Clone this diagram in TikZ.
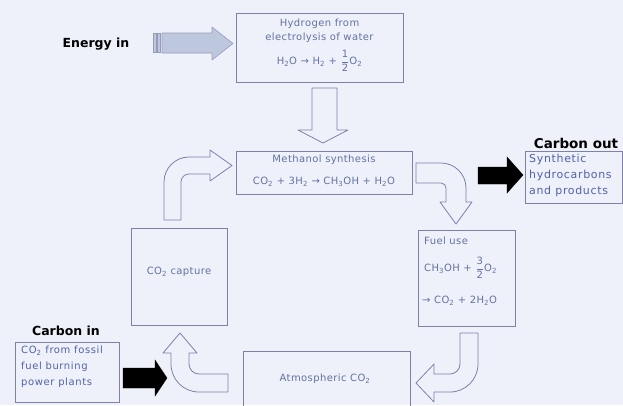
\documentclass[tikz,border=0pt]{standalone}
\usepackage{fontspec}
\setmainfont{DejaVu Sans}
\newfontfamily\spaced[LetterSpace=4]{DejaVu Sans}
\newfontfamily\spacedb[LetterSpace=6]{DejaVu Sans}
\definecolor{bg}{HTML}{EEF1F9}
\definecolor{edge}{HTML}{7C82AA}
\definecolor{txt}{HTML}{6372A2}
\definecolor{bluetxt}{HTML}{5262AC}
\definecolor{energyfill}{HTML}{BDC7DD}
\newcommand{\myfr}[2]{$\displaystyle\frac{\mbox{\spaced\fontsize{10}{10}\selectfont #1}}{\mbox{\spaced\fontsize{10}{10}\selectfont #2}}$}
\tikzset{
  box/.style={draw=edge, line width=0.8pt, inner sep=0pt},
  boxtext/.style={text=txt, font=\spaced\fontsize{10}{12}\selectfont, inner sep=0pt},
  sidetext/.style={text=bluetxt, font=\spacedb\fontsize{11}{16}\selectfont, inner sep=0pt, align=left},
  label/.style={text=black, font=\bfseries\fontsize{12.5}{14}\selectfont, inner sep=0pt},
  hollow/.style={draw=edge, line width=0.8pt, fill=bg, line join=round},
  solid/.style={fill=black, draw=black}
}
\begin{document}
\begin{tikzpicture}[x=1pt,y=-1pt]
\fill[bg] (0,0) rectangle (623,405);
\useasboundingbox (0,0) rectangle (623,405);
\clip (0,0) rectangle (623,405);

% boxes
\node[box, minimum width=167pt, minimum height=69pt] (hyd) at (319.5,47.5) {};
\node[box, minimum width=176pt, minimum height=43pt] (meth) at (324,172.5) {};
\node[box, minimum width=97pt, minimum height=52pt] (out) at (573.5,177) {};
\node[box, minimum width=97pt, minimum height=96pt] (fuel) at (466.5,278) {};
\node[box, minimum width=167pt, minimum height=62pt] (atm) at (326.5,382) {};
\node[box, minimum width=96pt, minimum height=97pt] (cap) at (179,276.5) {};
\node[box, minimum width=104pt, minimum height=60pt] (cin) at (67,372) {};

% texts in hydrogen box
\node[boxtext] (h1) at (319.5,24) {Hydrogen from};
\node[boxtext] (h2) at (319.5,38) {electrolysis of water};
\node[boxtext] (h3) at (319.5,61) {H\textsubscript{2}O → H\textsubscript{2} + \myfr{1}{2}O\textsubscript{2}};

% methanol
\node[boxtext] (m1) at (324,160) {Methanol synthesis};
\node[boxtext] (m2) at (324,182) {CO\textsubscript{2} + 3H\textsubscript{2} → CH\textsubscript{3}OH + H\textsubscript{2}O};

% fuel use
\node[boxtext, anchor=west] (f1) at (424,241) {Fuel use};
\node[boxtext, anchor=west] (f2) at (424,268) {CH\textsubscript{3}OH + \myfr{3}{2}O\textsubscript{2}};
\node[boxtext, anchor=west] (f3) at (422,301) {→ CO\textsubscript{2} + 2H\textsubscript{2}O};

% capture, atmospheric
\node[boxtext] (c1) at (179,272) {CO\textsubscript{2} capture};
\node[boxtext] (a1) at (325,379) {Atmospheric CO\textsubscript{2}};

% side boxes texts
\node[sidetext, anchor=north west] (o1) at (529,154) {Synthetic\\hydrocarbons\\and products};
\node[sidetext, font=\spacedb\fontsize{10}{16}\selectfont, anchor=north west] (i1) at (21,346) {CO\textsubscript{2} from fossil\\fuel burning\\power plants};

% labels
\node[label] (lenergy) at (96,44) {Energy in};
\node[label, font=\bfseries\fontsize{13.5}{15}\selectfont] (lout) at (576,143) {Carbon out};
\node[label] (lin) at (66,331) {Carbon in};

% energy in arrow
\draw[draw=edge!80, fill=energyfill, line width=0.6pt] (153,33) rectangle (156,52);
\draw[draw=edge!80, fill=energyfill, line width=0.6pt] (157,33) rectangle (160,52);
\draw[draw=edge!80, fill=energyfill, line width=0.6pt, line join=round]
  (162,33) -- (212,33) -- (212,27) -- (233,43.5) -- (212,60) -- (212,53) -- (162,53) -- cycle;

% hollow down arrow hydrogen -> methanol
\draw[hollow] (312,88) -- (337,88) -- (337,130) -- (348,130) -- (323,143) -- (298,130) -- (312,130) -- cycle;

% methanol -> fuel
\draw[hollow] (416,163) -- (441,163) .. controls (454.8,163) and (466,174.2) .. (466,188)
  -- (466,202) -- (472,202) -- (456,224) -- (440,202) -- (446,202) -- (446,188)
  .. controls (446,185.2) and (443.8,183) .. (441,183) -- (416,183) -- cycle;

% fuel -> atmospheric
\draw[hollow] (460,333) -- (478,333) -- (478,364) .. controls (478,379.5) and (465.5,392) .. (450,392)
  -- (434,392) -- (434,402) -- (416,383) -- (434,364) -- (434,374) -- (450,374)
  .. controls (455.5,374) and (460,369.5) .. (460,364) -- cycle;

% atmospheric -> capture
\draw[hollow] (228,374) -- (228,392) -- (199,392) .. controls (183.5,392) and (171,379.5) .. (171,364)
  -- (171,353) -- (163,353) -- (180,333) -- (197,353) -- (189,353) -- (189,364)
  .. controls (189,369.5) and (193.5,374) .. (199,374) -- cycle;

% capture -> methanol
\draw[hollow] (164,220) -- (164,182) .. controls (164,168.2) and (175.2,157) .. (189,157)
  -- (210,157) -- (210,150) -- (232,165.5) -- (210,181) -- (210,174) -- (189,174)
  .. controls (184.6,174) and (181,177.6) .. (181,182) -- (181,220) -- cycle;

% black arrows
\fill[solid] (478,167) -- (507,167) -- (507,157) -- (523,175) -- (507,193) -- (507,184) -- (478,184) -- cycle;
\fill[solid] (123,368) -- (155,368) -- (155,360) -- (167,378) -- (155,396) -- (155,388) -- (123,388) -- cycle;
\end{tikzpicture}
\end{document}
